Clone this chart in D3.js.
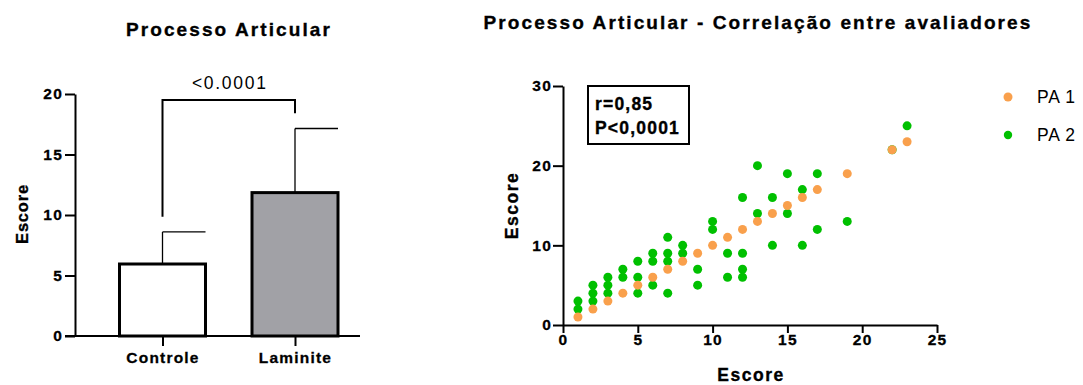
<!DOCTYPE html>
<html>
<head>
<meta charset="utf-8">
<script src="https://cdn.jsdelivr.net/npm/d3@7"></script>
<style>
  body { margin: 0; background: #fff; }
  svg text { font-family: "Liberation Sans", Arial, sans-serif; fill: #000; }
  svg text.heavy { stroke: #000; stroke-width: 0.35px; }
  .axis path, .axis line { stroke: #000; stroke-width: 2; }
  .axis text { font-size: 15.5px; font-weight: bold; letter-spacing: 1.2px; stroke: #000; stroke-width: 0.3px; }
</style>
</head>
<body>
<div id="chart"></div>
<script>
// Bar chart data
const categories = ['Controle', 'Laminite'];
const means = [5.95, 11.85];
const sds = [2.65, 5.3];
const barColors = ['#ffffff', '#a1a1a6'];
const barTicks = [0, 5, 10, 15, 20];
const pLabel = '<0.0001';

// Scatter data (PA 1 = orange, PA 2 = green)
const pa1X = [1, 2, 3, 4, 5, 6, 7, 8, 9, 10, 11, 12, 13, 14, 15, 16, 17, 19, 22, 23];
const pa1Y = [1, 2, 3, 4, 5, 6, 7, 8, 9, 10, 11, 12, 13, 14, 15, 16, 17, 19, 22, 23];
const pa2X = [1, 1, 2, 2, 2, 3, 3, 3, 4, 4, 5, 5, 5, 6, 6, 6, 7, 7, 7, 7, 8, 8, 9, 9,
  10, 10, 11, 11, 12, 12, 12, 12, 13, 13, 14, 14, 15, 15, 16, 16, 17, 17, 19, 22, 23];
const pa2Y = [3, 2, 5, 4, 3, 6, 5, 4, 7, 6, 8, 6, 4, 9, 8, 5, 11, 9, 8, 4, 10, 9, 7, 5,
  13, 12, 9, 6, 16, 9, 7, 6, 20, 14, 16, 10, 19, 14, 17, 10, 19, 12, 13, 22, 25];
const scatterXTicks = [0, 5, 10, 15, 20, 25];
const scatterYTicks = [0, 10, 20, 30];
const seriesNames = ['PA 1', 'PA 2'];
const seriesColors = ['#f9a04c', '#00c000'];
const statLines = ['r=0,85', 'P<0,0001'];

const W = 1083, H = 385;
const svg = d3.select('#chart').append('svg')
  .attr('width', W)
  .attr('height', H);

// ---------- Left: bar chart ----------
const bx = d3.scalePoint().domain(categories).range([162.5, 295]);
const by = d3.scaleLinear().domain([0, 20]).range([336, 94]);
const barW = 86;

svg.append('text')
  .attr('class', 'heavy')
  .attr('x', 229).attr('y', 36)
  .attr('text-anchor', 'middle')
  .attr('font-size', '19px').attr('font-weight', 'bold')
  .attr('letter-spacing', '2.1px')
  .text('Processo Articular');

svg.append('text')
  .attr('class', 'heavy')
  .attr('transform', `translate(28,${by(10) - 1}) rotate(-90)`)
  .attr('text-anchor', 'middle')
  .attr('font-size', '16.5px').attr('font-weight', 'bold')
  .attr('letter-spacing', '0.8px')
  .text('Escore');

const barG = svg.append('g');

// error bars (upper only), drawn behind bars
barG.selectAll('.err')
  .data(categories)
  .join('g')
  .each(function(c, i) {
    const g = d3.select(this);
    g.append('line')
      .attr('x1', bx(c)).attr('x2', bx(c))
      .attr('y1', by(means[i])).attr('y2', by(means[i] + sds[i]))
      .attr('stroke', '#000').attr('stroke-width', 1.3);
    g.append('line')
      .attr('x1', bx(c)).attr('x2', bx(c) + barW / 2)
      .attr('y1', by(means[i] + sds[i])).attr('y2', by(means[i] + sds[i]))
      .attr('stroke', '#000').attr('stroke-width', 1.3);
  });

barG.selectAll('.bar')
  .data(categories)
  .join('rect')
  .attr('x', c => bx(c) - barW / 2)
  .attr('y', (c, i) => by(means[i]))
  .attr('width', barW)
  .attr('height', (c, i) => by(0) - by(means[i]))
  .attr('fill', (c, i) => barColors[i])
  .attr('stroke', '#000')
  .attr('stroke-width', 3);

// axes
svg.append('g')
  .attr('class', 'axis')
  .attr('transform', 'translate(75,0)')
  .call(d3.axisLeft(by).tickValues(barTicks).tickSize(10).tickSizeOuter(0).tickPadding(2));

svg.append('line')
  .attr('x1', 65).attr('x2', 360)
  .attr('y1', by(0)).attr('y2', by(0))
  .attr('stroke', '#000').attr('stroke-width', 2);

const bxAxis = svg.append('g')
  .attr('class', 'axis')
  .attr('transform', `translate(0,${by(0)})`)
  .call(d3.axisBottom(bx).tickSize(10).tickPadding(6));
bxAxis.select('.domain').remove();

// significance bracket
const bTop = 19.5, gap = 1.25;
const tops = means.map((m, i) => m + sds[i] + gap);
svg.append('path')
  .attr('d', d3.line()([
    [bx(categories[0]), by(tops[0])],
    [bx(categories[0]), by(bTop)],
    [bx(categories[1]), by(bTop)],
    [bx(categories[1]), by(tops[1])]
  ]))
  .attr('fill', 'none')
  .attr('stroke', '#000')
  .attr('stroke-width', 2);

svg.append('text')
  .attr('x', (bx(categories[0]) + bx(categories[1])) / 2 + 1)
  .attr('y', by(bTop) - 11)
  .attr('text-anchor', 'middle')
  .attr('font-size', '17.5px')
  .attr('letter-spacing', '1.7px')
  .text(pLabel);

// ---------- Right: scatter ----------
const sx = d3.scaleLinear().domain([0, 25]).range([563, 937]);
const sy = d3.scaleLinear().domain([0, 30]).range([325, 86]);

svg.append('text')
  .attr('class', 'heavy')
  .attr('x', 758).attr('y', 29)
  .attr('text-anchor', 'middle')
  .attr('font-size', '19px').attr('font-weight', 'bold')
  .attr('letter-spacing', '2.1px')
  .text('Processo Articular - Correlação entre avaliadores');

svg.append('text')
  .attr('class', 'heavy')
  .attr('x', (sx(0) + sx(25)) / 2 + 1).attr('y', 381)
  .attr('text-anchor', 'middle')
  .attr('font-size', '17.5px').attr('font-weight', 'bold')
  .attr('letter-spacing', '1.5px')
  .text('Escore');

svg.append('text')
  .attr('class', 'heavy')
  .attr('transform', `translate(518,${sy(15)}) rotate(-90)`)
  .attr('text-anchor', 'middle')
  .attr('font-size', '17.5px').attr('font-weight', 'bold')
  .attr('letter-spacing', '1.5px')
  .text('Escore');

svg.append('g')
  .attr('class', 'axis')
  .attr('transform', `translate(${sx(0)},0)`)
  .call(d3.axisLeft(sy).tickValues(scatterYTicks).tickSize(10).tickSizeOuter(0).tickPadding(1));

svg.append('g')
  .attr('class', 'axis')
  .attr('transform', `translate(0,${sy(0)})`)
  .call(d3.axisBottom(sx).tickValues(scatterXTicks).tickSize(8).tickSizeOuter(0).tickPadding(1));

// points: green first, orange on top
const pa2 = pa2X.map((x, i) => ({ x, y: pa2Y[i] }));
const pa1 = pa1X.map((x, i) => ({ x, y: pa1Y[i] }));

svg.append('g').selectAll('circle')
  .data(pa2)
  .join('circle')
  .attr('cx', d => sx(d.x))
  .attr('cy', d => sy(d.y))
  .attr('r', 4.5)
  .attr('fill', seriesColors[1]);

svg.append('g').selectAll('circle')
  .data(pa1)
  .join('circle')
  .attr('cx', d => sx(d.x))
  .attr('cy', d => sy(d.y))
  .attr('r', 4.5)
  .attr('fill', seriesColors[0]);

// stats box
svg.append('rect')
  .attr('x', 588).attr('y', 86)
  .attr('width', 101).attr('height', 58)
  .attr('fill', '#fff')
  .attr('stroke', '#000')
  .attr('stroke-width', 2);

svg.append('g').selectAll('text')
  .data(statLines)
  .join('text')
  .attr('class', 'heavy')
  .attr('x', 595)
  .attr('y', (d, i) => 110 + i * 24)
  .attr('font-size', '17.5px')
  .attr('font-weight', 'bold')
  .attr('letter-spacing', '1.2px')
  .text(d => d);

// legend
const legend = svg.append('g').selectAll('g')
  .data(seriesNames)
  .join('g')
  .attr('transform', (d, i) => `translate(1008,${97 + i * 38})`);

legend.append('circle')
  .attr('r', (d, i) => i === 0 ? 4.5 : 4.2)
  .attr('fill', (d, i) => seriesColors[i]);

legend.append('text')
  .attr('x', 29)
  .attr('y', 6)
  .attr('font-size', '17.5px')
  .attr('letter-spacing', '0.8px')
  .text(d => d);
</script>
</body>
</html>
